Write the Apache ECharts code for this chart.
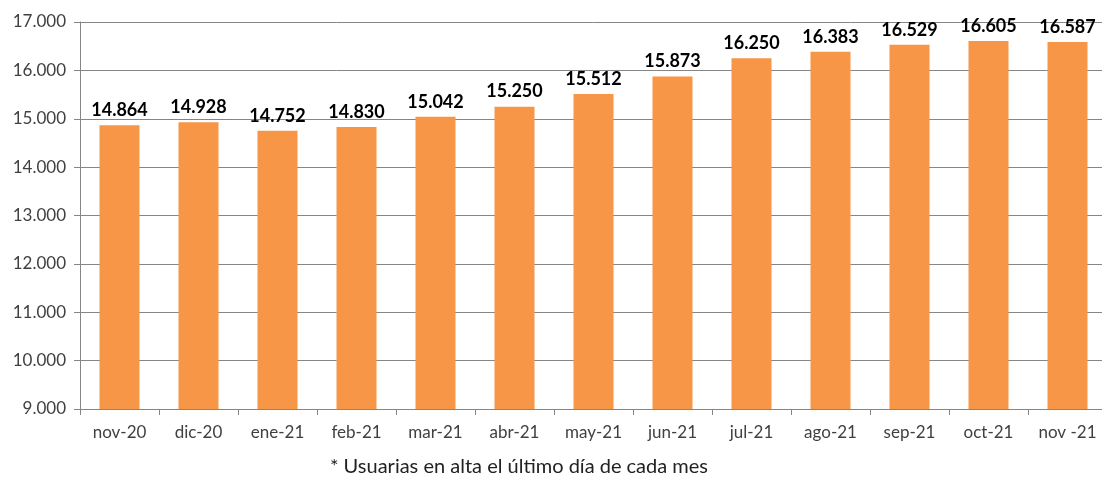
<!DOCTYPE html>
<html>
<head>
<meta charset="utf-8">
<script src="https://cdn.jsdelivr.net/npm/echarts@6/dist/echarts.min.js"></script>
<style>
  html, body { margin: 0; padding: 0; background: #fff; overflow: hidden; }
  #chart { width: 1110px; height: 484px; }
</style>
</head>
<body>
<div id="chart"></div>
<script>
// meses y usuarias en alta
const months = ['nov-20', 'dic-20', 'ene-21', 'feb-21', 'mar-21', 'abr-21', 'may-21',
  'jun-21', 'jul-21', 'ago-21', 'sep-21', 'oct-21', 'nov -21']
const users = [14864, 14928, 14752, 14830, 15042, 15250, 15512, 15873, 16250, 16383, 16529, 16605, 16587]
const note = '* Usuarias en alta el último día de cada mes'

const fmt = v => String(v).replace(/\B(?=(\d{3})+(?!\d))/g, '.')
const font = 'Lato, "DejaVu Sans", sans-serif'

const chart = echarts.init(document.getElementById('chart'))
chart.setOption({
  animation: false,
  textStyle: { fontFamily: font },
  grid: { left: 80, right: 3, top: 22, bottom: 75 },
  graphic: [{
    type: 'text',
    left: 330, top: 457,
    style: { text: note, font: '20px ' + font, fill: '#222' }
  }],
  xAxis: {
    type: 'category',
    data: months,
    axisLine: { lineStyle: { color: '#868686', width: 1 } },
    axisTick: { show: true, length: 6, lineStyle: { color: '#868686' } },
    axisLabel: { color: '#404040', fontSize: 17, margin: 15 }
  },
  yAxis: {
    type: 'value',
    min: 9000, max: 17000, interval: 1000,
    axisLine: { show: true, lineStyle: { color: '#868686', width: 1 } },
    axisTick: { show: true, length: 6, inside: false, lineStyle: { color: '#868686' } },
    splitLine: { lineStyle: { color: '#868686', width: 1 } },
    axisLabel: { color: '#404040', fontSize: 17, margin: 14, formatter: fmt }
  },
  series: [{
    type: 'bar',
    data: users,
    barWidth: 40,
    itemStyle: { color: '#F79646' },
    label: {
      show: true, position: 'top', distance: 6,
      color: '#000', fontWeight: 'bold', fontSize: 18,
      formatter: p => fmt(p.value)
    }
  }]
})
</script>
</body>
</html>
